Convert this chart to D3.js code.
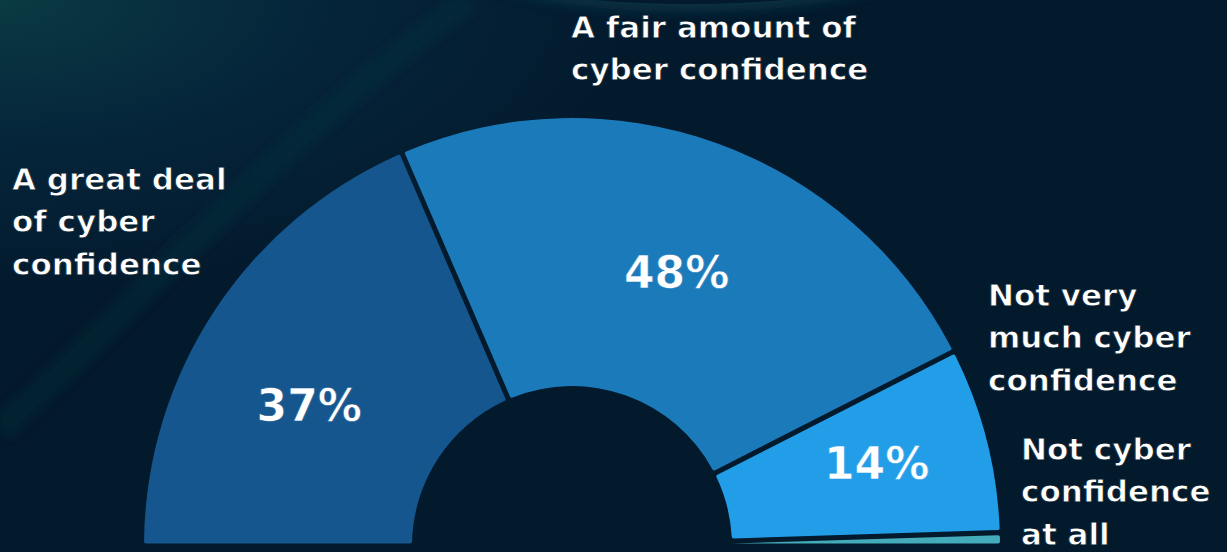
<!DOCTYPE html>
<html>
<head>
<meta charset="utf-8">
<script src="https://cdn.jsdelivr.net/npm/d3@7"></script>
<style>
  html, body { margin: 0; padding: 0; background: #03192c; }
  svg { display: block; }
  text { font-family: "DejaVu Sans", Lato, sans-serif; fill: #ffffff; }
</style>
</head>
<body>
<svg id="chart"></svg>
<script>
// Survey answers and their share (%)
const categories = [
  "A great deal of cyber confidence",
  "A fair amount of cyber confidence",
  "Not very much cyber confidence",
  "Not cyber confidence at all"
];
const values = [37, 48, 14, 1];
const valueLabels = ["37%", "48%", "14%", ""];
const colours = ["#14568d", "#1b7aba", "#229ee8", "#43abb9"];

// How each category label is broken into lines
const labelLines = [
  ["A great deal", "of cyber", "confidence"],
  ["A fair amount of", "cyber confidence"],
  ["Not very", "much cyber", "confidence"],
  ["Not cyber", "confidence", "at all"]
];
// first-line anchor of each label block (layout only)
const labelAnchor = [[12, 190], [571, 38], [988, 306], [1021, 460]];
// small nudges of the % labels away from the arc centroid (layout only)
const pctNudge = [[-12, 24], [3, 8], [14, -8], [0, 0]];

const width = 1227, height = 552;
const cx = 572, cy = 546;
const outerR = 428, innerR = 160;
const bg = "#03192c";

const svg = d3.select("#chart")
  .attr("width", width)
  .attr("height", height);

// Background with the soft teal glow top left
const defs = svg.append("defs");
const glow = defs.append("radialGradient")
  .attr("id", "glow")
  .attr("cx", 0).attr("cy", 0).attr("r", 0.55);
glow.append("stop").attr("offset", "0%").attr("stop-color", "#0a3a42");
glow.append("stop").attr("offset", "50%").attr("stop-color", "#05243a");
glow.append("stop").attr("offset", "100%").attr("stop-color", bg);

svg.append("rect")
  .attr("width", width).attr("height", height)
  .attr("fill", bg);
svg.append("rect")
  .attr("width", width).attr("height", height)
  .attr("fill", "url(#glow)");

// faint streaks in the background
const blur = defs.append("filter").attr("id", "soft")
  .attr("x", "-20%").attr("y", "-20%").attr("width", "140%").attr("height", "140%");
blur.append("feGaussianBlur").attr("stdDeviation", 6);

svg.append("ellipse")
  .attr("cx", 690).attr("cy", -40)
  .attr("rx", 230).attr("ry", 52)
  .attr("fill", "#0c3a48")
  .attr("opacity", 0.7)
  .attr("filter", "url(#soft)");
svg.append("ellipse")
  .attr("cx", 690).attr("cy", -46)
  .attr("rx", 240).attr("ry", 50)
  .attr("fill", bg);
svg.append("path")
  .attr("d", "M0,430 C140,300 300,120 470,0")
  .attr("fill", "none")
  .attr("stroke", "#0a3340")
  .attr("stroke-opacity", 0.35)
  .attr("stroke-width", 26)
  .attr("filter", "url(#soft)");

// Half donut
const pie = d3.pie()
  .value(d => d)
  .sort(null)
  .startAngle(-Math.PI / 2)
  .endAngle(Math.PI / 2);

const arc = d3.arc()
  .innerRadius(innerR)
  .outerRadius(outerR)
  .cornerRadius(2)
  .padAngle(0.011);

const labelArc = d3.arc()
  .innerRadius(300)
  .outerRadius(300);

const g = svg.append("g")
  .attr("transform", "translate(" + cx + "," + cy + ")");

const slices = g.selectAll(".arc")
  .data(pie(values))
  .enter().append("g")
  .attr("class", "arc");

slices.append("path")
  .attr("d", arc)
  .attr("fill", (d, i) => colours[i]);

// percentage inside each slice (thin stroke in slice colour trims the bold weight)
slices.append("text")
  .attr("transform", (d, i) => {
    const c = labelArc.centroid(d);
    return "translate(" + (c[0] + pctNudge[i][0]) + "," + (c[1] + pctNudge[i][1]) + ")";
  })
  .attr("text-anchor", "middle")
  .attr("dy", "0.36em")
  .style("font-size", "44px")
  .style("font-weight", 700)
  .attr("stroke", (d, i) => colours[i])
  .attr("stroke-width", 0.6)
  .text((d, i) => valueLabels[i]);

// category labels
const labels = svg.selectAll(".cat")
  .data(categories)
  .enter().append("text")
  .attr("class", "cat")
  .attr("x", (d, i) => labelAnchor[i][0])
  .attr("y", (d, i) => labelAnchor[i][1])
  .style("font-size", "31px")
  .style("font-weight", 700)
  .attr("stroke", (d, i) => i === 0 ? "#04202f" : bg)
  .attr("stroke-width", 0.8);

labels.selectAll("tspan")
  .data((d, i) => labelLines[i].map(t => ({ t, x: labelAnchor[i][0] })))
  .enter().append("tspan")
  .attr("x", d => d.x)
  .attr("dy", (d, j) => j === 0 ? 0 : 42.3)
  .text(d => d.t);
</script>
</body>
</html>
